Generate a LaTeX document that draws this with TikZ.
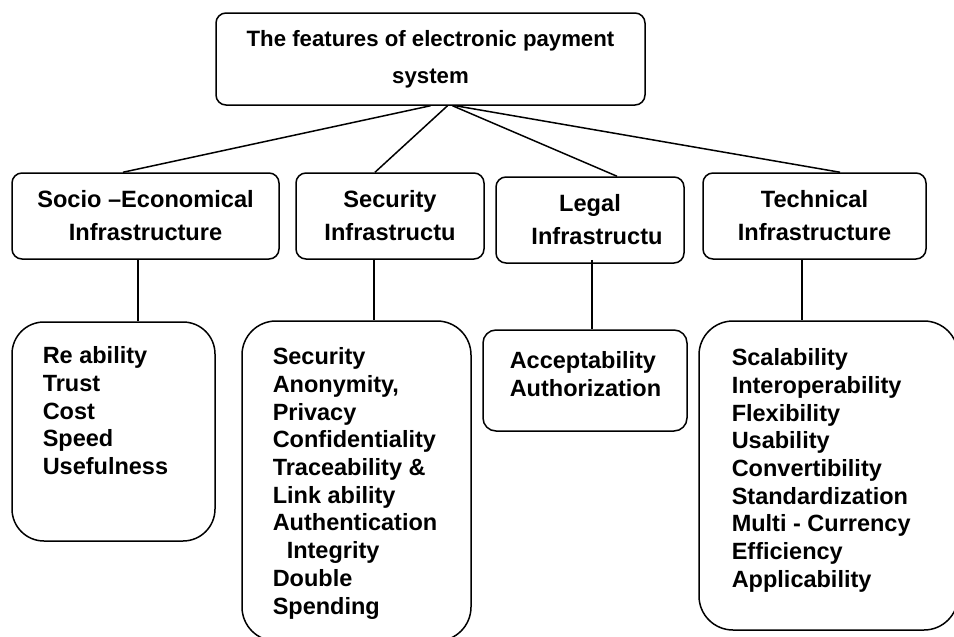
\documentclass[tikz,border=0pt]{standalone}
\usepackage{fontspec}
\setmainfont{Liberation Sans}
\begin{document}
\begin{tikzpicture}[x=1pt,y=-1pt,line width=1.5pt,
  hbox/.style={draw,rounded corners=10pt,inner sep=0pt,align=center,
    font=\bfseries\fontsize{23.6}{33}\selectfont},
  lbox/.style={draw,rounded corners=34pt,inner sep=0pt},
  items/.style={anchor=north west,inner sep=0pt,align=left,
    font=\bfseries\fontsize{23.5}{27.7}\selectfont}]
\useasboundingbox (0,0) rectangle (954,637);
\clip (0,0) rectangle (954,637);
% top
\node[hbox,minimum width=429pt,minimum height=92pt,
  font=\bfseries\fontsize{22.2}{37}\selectfont] (top) at (430.5,59)
  {The features of electronic payment\\system};
% headers
\node[hbox,minimum width=267pt,minimum height=86pt] (soc) at (145.5,216)
  {Socio --Economical\\Infrastructure};
\node[hbox,minimum width=188pt,minimum height=86pt] (sec) at (390,216)
  {Security\\Infrastructu};
\node[hbox,minimum width=188pt,minimum height=86pt] (leg) at (590,220)
  {Legal\\\hspace*{14pt}Infrastructu};
\node[hbox,minimum width=223pt,minimum height=86pt] (tec) at (814.5,216)
  {Technical\\Infrastructure};
% lists
\node[lbox,rounded corners=32pt,minimum width=203pt,minimum height=219pt] (socl) at (113.5,431.5) {};
\node[lbox,minimum width=229pt,minimum height=320pt] (secl) at (356.5,481) {};
\node[lbox,rounded corners=13pt,minimum width=204pt,minimum height=101pt] (legl) at (585,380.5) {};
\node[lbox,minimum width=259pt,minimum height=309pt] (tecl) at (828.5,475.5) {};
% list texts
\node[items] (soct) at (42,346) {Re ability\\Trust\\Cost\\Speed\\Usefulness};
\node[items] (sect) at (272,347) {Security\\Anonymity,\\Privacy\\Confidentiality\\Traceability \&\\Link ability\\Authentication\\\hspace*{14pt}Integrity\\Double\\Spending};
\node[items] (legt) at (509,351) {Acceptability\\Authorization};
\node[items] (tect) at (731,348) {Scalability\\Interoperability\\Flexibility\\Usability\\Convertibility\\Standardization\\Multi - Currency\\Efficiency\\Applicability};
% connectors
\draw ([xshift=0pt]top.south) -- ([xshift=-22.5pt]soc.north);
\draw ([xshift=17pt]top.south) -- ([xshift=-15pt]sec.north);
\draw ([xshift=22pt]top.south) -- ([xshift=27pt]leg.north);
\draw ([xshift=25pt]top.south) -- ([xshift=25.5pt]tec.north);
\draw ([xshift=-7.5pt]soc.south) -- ([xshift=24.5pt]socl.north);
\draw ([xshift=-16pt]sec.south) -- ([xshift=17.5pt]secl.north);
\draw ([xshift=2pt,yshift=4pt]leg.south) -- ([xshift=7pt]legl.north);
\draw ([xshift=-12.5pt]tec.south) -- ([xshift=-26.5pt]tecl.north);
\end{tikzpicture}
\end{document}
